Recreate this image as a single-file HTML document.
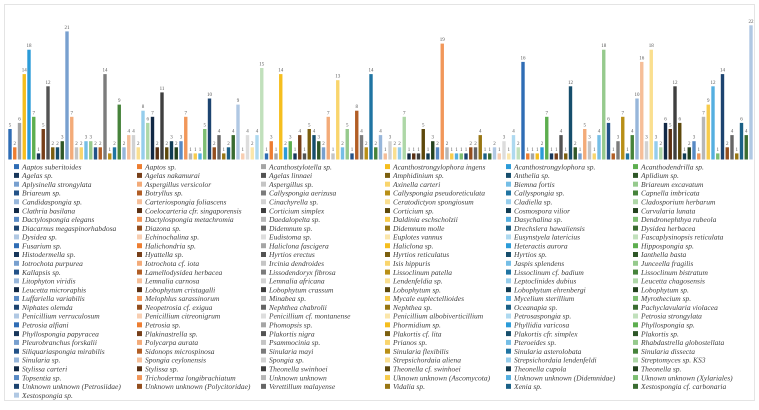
<!DOCTYPE html>
<html><head><meta charset="utf-8"><style>
html,body{margin:0;padding:0;background:#fff;}
body{width:759px;height:405px;overflow:hidden;}
svg text{font-family:"Liberation Serif",serif;}
</style></head><body>
<svg id="chart" width="759" height="405" viewBox="0 0 759 405" xmlns="http://www.w3.org/2000/svg">
<rect x="4.5" y="4.5" width="750" height="396" fill="#fff" stroke="#e4e4e4" stroke-width="1"/>
<g id="bars"></g>
<g id="labels"></g>
<g id="legend"></g>
</svg>
<script>
const categories = [
"Aaptos suberitoides","Aaptos sp.","Acanthostylotella sp.","Acanthostrongylophora ingens","Acanthostrongylophora sp.","Acanthodendrilla sp.",
"Agelas sp.","Agelas nakamurai","Agelas linnaei","Amphidinium sp.","Anthelia sp.","Aplidium sp.",
"Aplysinella strongylata","Aspergillus versicolor","Aspergillus sp.","Axinella carteri","Biemna fortis","Briareum excavatum",
"Briareum sp.","Botryllus sp.","Callyspongia aerizusa","Callyspongia pseudoreticulata","Callyspongia sp.","Capnella imbricata",
"Candidaspongia sp.","Carteriospongia foliascens","Cinachyrella sp.","Ceratodictyon spongiosum","Cladiella sp.","Cladosporium herbarum",
"Clathria basilana","Coelocarteria cfr. singaporensis","Corticium simplex","Corticium sp.","Cosmospora vilior","Curvularia lunata",
"Dactylospongia elegans","Dactylospongia metachromia","Daedalopelta sp.","Daldinia eschscholzii","Dasychalina sp.","Dendronephthya rubeola",
"Diacarnus megaspinorhabdosa","Diazona sp.","Didemnum sp.","Didemnum molle","Drechslera hawaiiensis","Dysidea herbacea",
"Dysidea sp.","Echinochalina sp.","Eudistoma sp.","Euplotes vannus","Eusynstyela latericius","Fascaplysinopsis reticulata",
"Fusarium sp.","Halichondria sp.","Haliclona fascigera","Haliclona sp.","Heteractis aurora","Hippospongia sp.",
"Histodermella sp.","Hyattella sp.","Hyrtios erectus","Hyrtios reticulatus","Hyrtios sp.","Ianthella basta",
"Iotrochota purpurea","Iotrochota cf. iota","Ircinia dendroides","Isis hippuris","Jaspis splendens","Junceella fragilis",
"Kallapsis sp.","Lamellodysidea herbacea","Lissodendoryx fibrosa","Lissoclinum patella","Lissoclinum cf. badium","Lissoclinum bistratum",
"Litophyton viridis","Lemnalia carnosa","Lemnalia africana","Lendenfeldia sp.","Leptoclinides dubius","Leucetta chagosensis",
"Leucetta microraphis","Lobophytum cristagalli","Lobophytum crassum","Lobophytum sp.","Lobophytum ehrenbergi","Lobophytum sp.",
"Luffariella variabilis","Melophlus sarassinorum","Minabea sp.","Mycale euplectellioides","Mycelium sterillium","Myrothecium sp.",
"Niphates olemda","Neopetrosia cf. exigua","Nephthea chabrolii","Nephthea sp.","Oceanapia sp.","Pachyclavularia violacea",
"Penicillium verruculosum","Penicillium citreonigrum","Penicillium cf. montanense","Penicillium albobiverticillium","Petrosaspongia sp.","Petrosia strongylata",
"Petrosia alfiani","Petrosia sp.","Phomopsis sp.","Phormidium sp.","Phyllidia varicosa","Phyllospongia sp.",
"Phyllospongia papyracea","Plakinastrella sp.","Plakortis nigra","Plakortis cf. lita","Plakortis cfr. simplex","Plakortis sp.",
"Pleurobranchus forskalii","Polycarpa aurata","Psammocinia sp.","Prianos sp.","Pteroeides sp.","Rhabdastrella globostellata",
"Siliquariaspongia mirabilis","Sidonops microspinosa","Sinularia mayi","Sinularia flexibilis","Sinularia asterolobata","Sinularia dissecta",
"Sinularia sp.","Spongia ceylonensis","Spongia sp.","Strepsichordaia aliena","Strepsichordaia lendenfeldi","Streptomyces sp. KS3",
"Stylissa carteri","Stylissa sp.","Theonella swinhoei","Theonella cf. swinhoei","Theonella cupola","Theonella sp.",
"Topsentia sp.","Trichoderma longibrachiatum","Unknown unknown","Uknown unknown (Ascomycota)","Unknown unknown (Didemnidae)","Uknown unknown (Xylariales)",
"Unknown unknown (Petrosiidae)","Unknown unknown (Polycitoridae)","Verettillum malayense","Vidalia sp.","Xenia sp.","Xestospongia cf. carbonaria",
"Xestospongia sp."
];
const values = [
5,2,6,14,18,7,1,5,12,2,2,3,21,7,2,2,3,3,2,2,14,1,2,9,2,
4,4,2,8,6,7,2,11,2,3,2,3,7,1,1,1,5,10,2,4,1,2,4,9,1,4,2,4,
15,1,3,1,14,2,3,1,4,1,5,4,3,2,7,1,13,2,5,1,8,4,2,14,
2,4,1,3,2,2,7,1,1,1,5,1,3,2,19,2,1,1,1,1,2,2,4,1,1,2,1,3,
1,4,2,16,1,1,1,2,7,1,1,4,1,12,2,1,5,3,1,4,18,6,1,3,7,1,4,10,16,3,18,3,2,6,5,12,6,1,2,3,1,7,9,12,1,14,2,4,1,6,4,22
];
const baseColors = ["#2F6DB5","#ED7D31","#A5A5A5","#F5BE1E","#2B9BD8","#5DAE4F"];
const shadeLevels = [["b",0],["d",0.5],["t",0.35],["d",0.25],["t",0.5],["d",0.62],["t",0.2],["d",0.38],["t",0.62]];

function hex2rgb(h){return [1,3,5].map(i=>parseInt(h.substr(i,2),16));}
function colorFor(i){
  const base = hex2rgb(baseColors[i%6]);
  const lv = shadeLevels[Math.floor(i/6)%shadeLevels.length];
  let c;
  if(lv[0]==="b") c=base;
  else if(lv[0]==="d") c=base.map(v=>Math.round(v*(1-lv[1])));
  else c=base.map(v=>Math.round(v+(255-v)*lv[1]));
  return "rgb("+c.join(",")+")";
}
const NS="http://www.w3.org/2000/svg";
const x0=10, pitch=4.75, barW=3.4, baseY=159.5, unit=6.1;
function xScale(i){return x0+pitch*i;}
function yScale(v){return baseY-v*unit;}
const gb=document.getElementById("bars"), gl=document.getElementById("labels"), gg=document.getElementById("legend");
values.forEach((v,i)=>{
  const r=document.createElementNS(NS,"rect");
  r.setAttribute("x",(xScale(i)-barW/2).toFixed(2));
  r.setAttribute("y",yScale(v).toFixed(2));
  r.setAttribute("width",barW);
  r.setAttribute("height",(v*unit).toFixed(2));
  r.setAttribute("fill",colorFor(i));
  
  
  gb.appendChild(r);
  const t=document.createElementNS(NS,"text");
  t.setAttribute("x",xScale(i).toFixed(2));
  t.setAttribute("y",(yScale(v)-2.5).toFixed(2));
  t.setAttribute("font-size","5");
  t.setAttribute("text-anchor","middle");
  t.setAttribute("fill","#555");
  t.textContent=v;
  
  
  gl.appendChild(t);
});
const colX=[14,137,261,385,506,633], rowY0=166.7, rowH=8.79;
categories.forEach((name,i)=>{
  const col=i%6, row=Math.floor(i/6);
  const y=rowY0+row*rowH;
  const g=document.createElementNS(NS,"g");
  
  
  const m=document.createElementNS(NS,"rect");
  m.setAttribute("x",colX[col]);
  m.setAttribute("y",(y-2.6).toFixed(2));
  m.setAttribute("width",5);
  m.setAttribute("height",5);
  m.setAttribute("fill",colorFor(i));
  
  
  g.appendChild(m);
  const t=document.createElementNS(NS,"text");
  t.setAttribute("x",colX[col]+8);
  t.setAttribute("y",(y+2.6).toFixed(2));
  t.setAttribute("font-size","7.5");
  t.setAttribute("font-style","italic");
  t.setAttribute("fill","#404040");
  t.textContent=name;
  
  
  g.appendChild(t);
  gg.appendChild(g);
});
</script>
</body></html>
